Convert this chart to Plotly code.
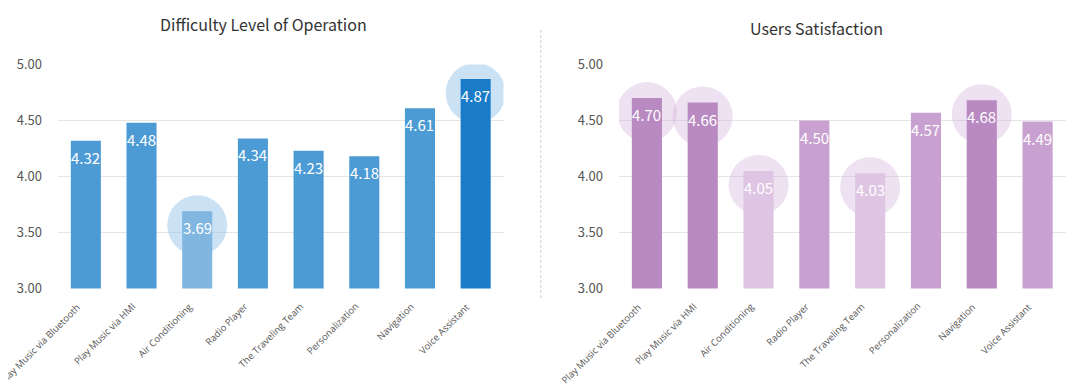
import plotly.graph_objects as go

categories = ["Play Music via Bluetooth", "Play Music via HMI", "Air Conditioning",
              "Radio Player", "The Traveling Team", "Personalization", "Navigation",
              "Voice Assistant"]
difficulty = [4.32, 4.48, 3.69, 4.34, 4.23, 4.18, 4.61, 4.87]
satisfaction = [4.70, 4.66, 4.05, 4.50, 4.03, 4.57, 4.68, 4.49]
y_ticks = [3.0, 3.5, 4.0, 4.5, 5.0]
titles = ["Difficulty Level of Operation", "Users Satisfaction"]

# page body has an 8px margin; figure is drawn at (8, 8) in the window
OFF = 8
W, H = 1083 - OFF, 389 - OFF
FONT = "Noto Sans CJK SC"
LABEL_FONT = "Open Sans"

def px(x):
    return (x - OFF) / W

def py(y):
    return 1 - (y - OFF) / H

def rank_groups(vals, n_top, n_bottom):
    order = sorted(range(len(vals)), key=lambda i: vals[i])
    bottom = set(order[:n_bottom])
    top = set(order[len(vals) - n_top:])
    return top, bottom

panels = [
    dict(vals=difficulty, top=1, bottom=1, xa="x", ya="y",
         colors=("#1A7CC8", "#4C9BD5", "#80B6E0"),
         circle="rgba(140,188,230,0.45)",
         xdom=(px(58), px(503.5)), ydom=(py(288.5), py(64.5))),
    dict(vals=satisfaction, top=3, bottom=2, xa="x2", ya="y2",
         colors=("#B98AC2", "#C9A1D0", "#DEC5E3"),
         circle="rgba(205,168,216,0.35)",
         xdom=(px(619), px(1065.5)), ydom=(py(288.5), py(64.5))),
]

fig = go.Figure()
shapes = []
annotations = []

for p in panels:
    top, bottom = rank_groups(p["vals"], p["top"], p["bottom"])
    cols = []
    for i in range(len(p["vals"])):
        if i in top:
            cols.append(p["colors"][0])
        elif i in bottom:
            cols.append(p["colors"][2])
        else:
            cols.append(p["colors"][1])
    fig.add_trace(go.Bar(x=categories, y=p["vals"], marker=dict(color=cols, line=dict(width=0)),
                         xaxis=p["xa"], yaxis=p["ya"], showlegend=False, hoverinfo="x+y"))
    for i, v in enumerate(p["vals"]):
        if i in top or i in bottom:
            shapes.append(dict(type="circle", xref=p["xa"], yref=p["ya"],
                               xsizemode="pixel", ysizemode="pixel",
                               xanchor=categories[i], yanchor=v,
                               x0=-30, x1=30, y0=-44, y1=16,
                               fillcolor=p["circle"], line=dict(width=0), layer="between"))
        annotations.append(dict(x=categories[i], y=v, xref=p["xa"], yref=p["ya"],
                                text=f"{v:.2f}", showarrow=False, yshift=-16.5,
                                yanchor="middle", xanchor="center",
                                font=dict(family=FONT, size=15, color="white")))
    # rotated category labels
    for c in categories:
        annotations.append(dict(x=c, y=y_ticks[0], xref=p["xa"], yref=p["ya"], text=c,
                                showarrow=False, textangle=-45, xanchor="right", yanchor="top",
                                xshift=0, yshift=-9,
                                font=dict(family=LABEL_FONT, size=9.5, color="#555555")))

# titles
annotations.append(dict(x=px(263.5), y=py(24), xref="paper", yref="paper", text=titles[0],
                        showarrow=False, xanchor="center", yanchor="middle",
                        font=dict(family=FONT, size=16, color="#333333")))
annotations.append(dict(x=px(816.5), y=py(28.5), xref="paper", yref="paper", text=titles[1],
                        showarrow=False, xanchor="center", yanchor="middle",
                        font=dict(family=FONT, size=16, color="#333333")))

# dashed separator
shapes.append(dict(type="line", xref="paper", yref="paper", x0=px(540.7), x1=px(540.7),
                   y0=py(298), y1=py(29),
                   line=dict(color="#DDDDDD", width=1.5, dash="3px,2px"), layer="above"))

axis_common_x = dict(type="category", range=[-0.5, len(categories) - 0.5], autorange=False,
                     showgrid=False, zeroline=False, showline=False,
                     showticklabels=False, ticks="", fixedrange=True, automargin=False)
axis_common_y = dict(range=[3, 5], tickvals=y_ticks, ticktext=[f"{t:.2f}" for t in y_ticks],
                     showgrid=True, gridcolor="#E5E5E5", gridwidth=1, zeroline=False,
                     showline=False, ticks="", ticklabelstandoff=15, automargin=False,
                     tickfont=dict(family=FONT, size=13, color="#555555"), fixedrange=True)

fig.update_layout(
    width=W, height=H,
    margin=dict(l=0, r=0, t=0, b=0, autoexpand=False),
    paper_bgcolor="white", plot_bgcolor="white",
    bargap=0.46,
    xaxis=dict(domain=list(panels[0]["xdom"]), anchor="y", **axis_common_x),
    yaxis=dict(domain=list(panels[0]["ydom"]), anchor="x", **axis_common_y),
    xaxis2=dict(domain=list(panels[1]["xdom"]), anchor="y2", **axis_common_x),
    yaxis2=dict(domain=list(panels[1]["ydom"]), anchor="x2", **axis_common_y),
    shapes=shapes,
    annotations=annotations,
    font=dict(family=FONT),
)

fig.write_html("out.html")
